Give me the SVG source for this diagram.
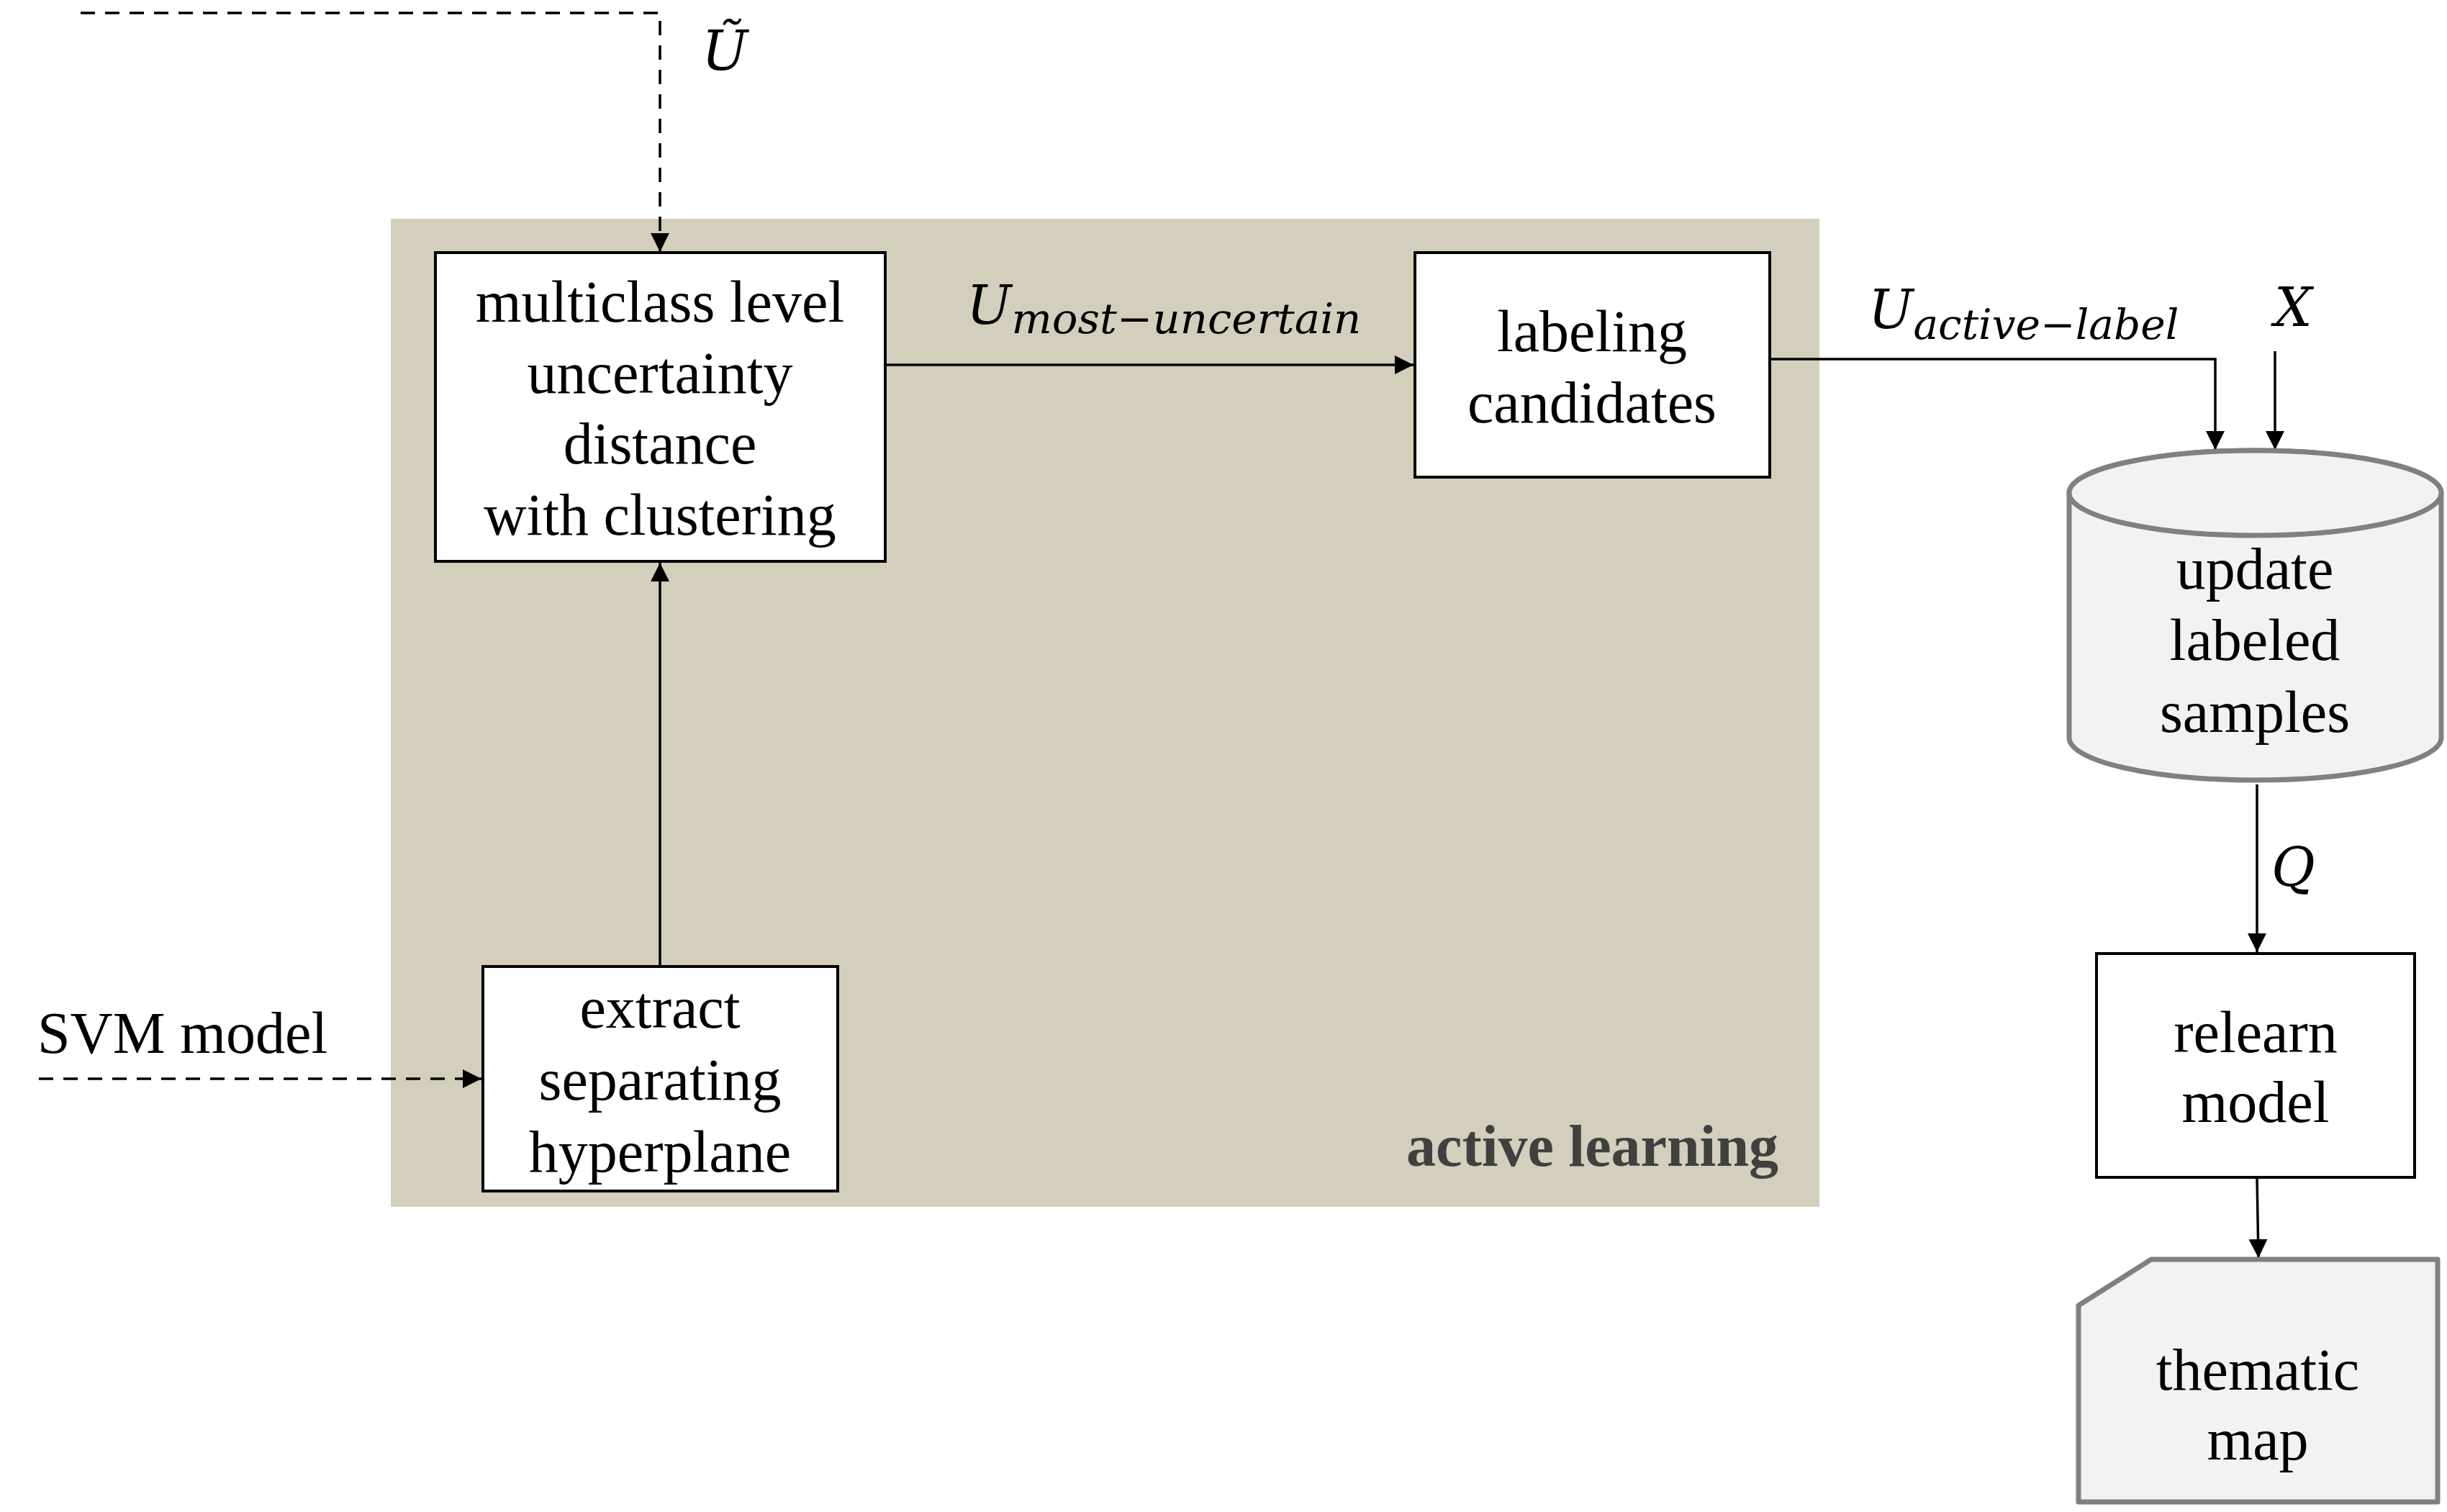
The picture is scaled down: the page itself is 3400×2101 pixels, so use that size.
<svg xmlns="http://www.w3.org/2000/svg" width="3400" height="2101" viewBox="0 0 3400 2101">
<defs>
<marker id="ah" markerUnits="userSpaceOnUse" markerWidth="28" markerHeight="28" refX="26" refY="14" orient="auto"><path d="M0,1 L26,14 L0,27 z" fill="#000"/></marker>
<style>
.box{fill:#fff;stroke:#000;stroke-width:4}
.t{font-family:"Liberation Serif","Times New Roman",serif;font-size:82px;fill:#000;text-anchor:middle}
.m{font-family:"DejaVu Serif","Liberation Serif",serif;font-style:italic;fill:#000}
.c{fill:none;stroke:#000;stroke-width:3.5}
.d{stroke-dasharray:20 14}
.g{fill:#f2f2f2;stroke:#808080;stroke-width:7;stroke-linejoin:round}
</style>
</defs>
<rect id="bg" x="543" y="304" width="1985" height="1373" fill="#d4cfbc"/>
<text x="2471" y="1620" font-family="Liberation Serif,serif" font-weight="bold" font-size="82" fill="#404040" text-anchor="end">active learning</text>
<g id="connectors">
<path class="c d" d="M112,18 H917 V350" marker-end="url(#ah)"/>
<path class="c d" d="M54,1499 H669" marker-end="url(#ah)"/>
<path class="c" d="M917,1343 V782" marker-end="url(#ah)"/>
<path class="c" d="M1230,507 H1964" marker-end="url(#ah)"/>
<path class="c" d="M2459,499 H3078 V625" marker-end="url(#ah)"/>
<path class="c" d="M3161,488 V625" marker-end="url(#ah)"/>
<path class="c" d="M3136,1090 V1323" marker-end="url(#ah)"/>
<path class="c" d="M3136,1637 L3138,1748" marker-end="url(#ah)"/>
<text class="m" x="975" y="97" font-size="76">Ũ</text>
<text class="m" x="1343" y="450" font-size="74">U<tspan font-size="58" dy="13" textLength="486" lengthAdjust="spacingAndGlyphs">most−uncertain</tspan></text>
<text class="m" x="2596" y="456" font-size="74">U<tspan font-size="58" dy="15" textLength="369" lengthAdjust="spacingAndGlyphs">active−label</tspan></text>
<text class="m" x="3160" y="453" font-size="74">X</text>
<text class="m" x="3156" y="1231" font-size="74">Q</text>
<text x="52" y="1463" font-family="Liberation Serif,serif" font-size="82">SVM model</text>
</g>
<g id="n1">
<rect class="box" x="605" y="351" width="625" height="429"/>
<text class="t" x="917" y="447">multiclass level</text>
<text class="t" x="917" y="546">uncertainty</text>
<text class="t" x="917" y="644">distance</text>
<text class="t" x="917" y="743">with clustering</text>
</g>
<g id="n2">
<rect class="box" x="1966" y="351" width="493" height="312"/>
<text class="t" x="2212" y="488">labeling</text>
<text class="t" x="2212" y="587">candidates</text>
</g>
<g id="n3">
<rect class="box" x="671" y="1343" width="493" height="312"/>
<text class="t" x="917" y="1428">extract</text>
<text class="t" x="917" y="1528">separating</text>
<text class="t" x="917" y="1628">hyperplane</text>
</g>
<g id="n4">
<path class="g" d="M2875,685 V1025 A258.5,59 0 0 0 3392,1025 V685 A258.5,59 0 0 0 2875,685 Z"/>
<ellipse class="g" cx="3133.5" cy="685" rx="258.5" ry="59"/>
<text class="t" x="3133" y="818">update</text>
<text class="t" x="3133" y="917">labeled</text>
<text class="t" x="3133" y="1017">samples</text>
</g>
<g id="n5">
<rect class="box" x="2913" y="1325" width="442" height="311"/>
<text class="t" x="3134" y="1462">relearn</text>
<text class="t" x="3134" y="1559">model</text>
</g>
<g id="n6">
<polygon class="g" points="2888,1814 2989,1750 3387,1750 3387,2087 2888,2087"/>
<text class="t" x="3137" y="1931">thematic</text>
<text class="t" x="3137" y="2028">map</text>
</g>
</svg>
